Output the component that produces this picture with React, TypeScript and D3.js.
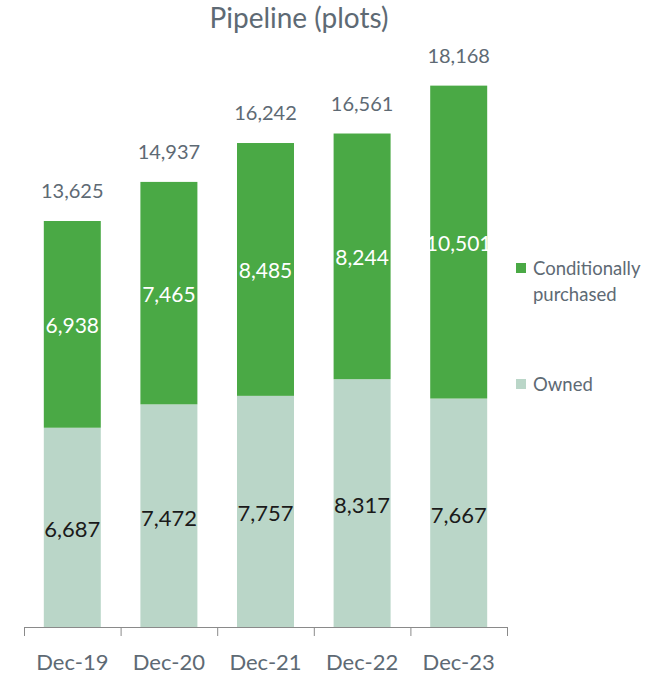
import React from "react";
import * as d3 from "d3";

const categories = ["Dec-19", "Dec-20", "Dec-21", "Dec-22", "Dec-23"];
const owned = [6687, 7472, 7757, 8317, 7667];
const conditional = [6938, 7465, 8485, 8244, 10501];
const totals = [13625, 14937, 16242, 16561, 18168];
const seriesNames = ["Conditionally purchased", "Owned"];

const W = 660;
const H = 674;
const GREEN = "#4aa945";
const LIGHT = "#bad6c8";
const TEXT = "#5e6a74";
const FONT = "Lato, 'Open Sans', sans-serif";

export default function App() {
  const x = d3.scaleBand<string>().domain(categories).range([24, 507]).paddingInner(0.41).paddingOuter(0.205);
  const y = d3.scaleLinear().domain([0, 13625]).range([627, 221]);
  const fmt = d3.format(",");
  const ticks = [0, ...categories.map((_, i) => i + 1)];
  const step = x.step();
  const x0 = 24;

  return (
    <svg width={W} height={H} style={{ position: "absolute", left: 0, top: 0, fontFamily: FONT }}>
      <text x={299} y={28} textAnchor="middle" fontSize={28} fill={TEXT}>Pipeline (plots)</text>
      {categories.map((c, i) => {
        const bx = x(c)!;
        const bw = x.bandwidth();
        const yo = y(owned[i]);
        const yt = y(owned[i] + conditional[i]);
        return (
          <g key={c}>
            <rect x={bx} y={yo} width={bw} height={y(0) - yo} fill={LIGHT} />
            <rect x={bx} y={yt} width={bw} height={yo - yt} fill={GREEN} />
            <text x={bx + bw / 2} y={(yo + y(0)) / 2 + 10} textAnchor="middle" fontSize={22} fill="#1a1a1a">{fmt(owned[i])}</text>
            <text x={bx + bw / 2} y={(yt + yo) / 2 + 9} textAnchor="middle" fontSize={21} fill="#ffffff">{fmt(conditional[i])}</text>
            <text x={bx + bw / 2} y={y(totals[i]) - 23} textAnchor="middle" fontSize={20} fill={TEXT}>{fmt(totals[i])}</text>
            <text x={bx + bw / 2} y={670} textAnchor="middle" fontSize={22} fill={TEXT}>{c}</text>
          </g>
        );
      })}
      <line x1={24} x2={507} y1={627.5} y2={627.5} stroke="#8a8a8a" strokeWidth={1} />
      {ticks.map((t) => (
        <line key={t} x1={x0 + t * step + 0.5} x2={x0 + t * step + 0.5} y1={627} y2={636} stroke="#8a8a8a" strokeWidth={1} />
      ))}
      <rect x={516} y={263} width={10} height={10} fill={GREEN} />
      <text x={533} y={275} fontSize={18.5} fill={TEXT}>Conditionally</text>
      <text x={533} y={301} fontSize={18.5} fill={TEXT}>purchased</text>
      <rect x={516} y={379} width={10} height={10} fill={LIGHT} />
      <text x={533} y={391} fontSize={18.5} fill={TEXT}>{seriesNames[1]}</text>
    </svg>
  );
}
